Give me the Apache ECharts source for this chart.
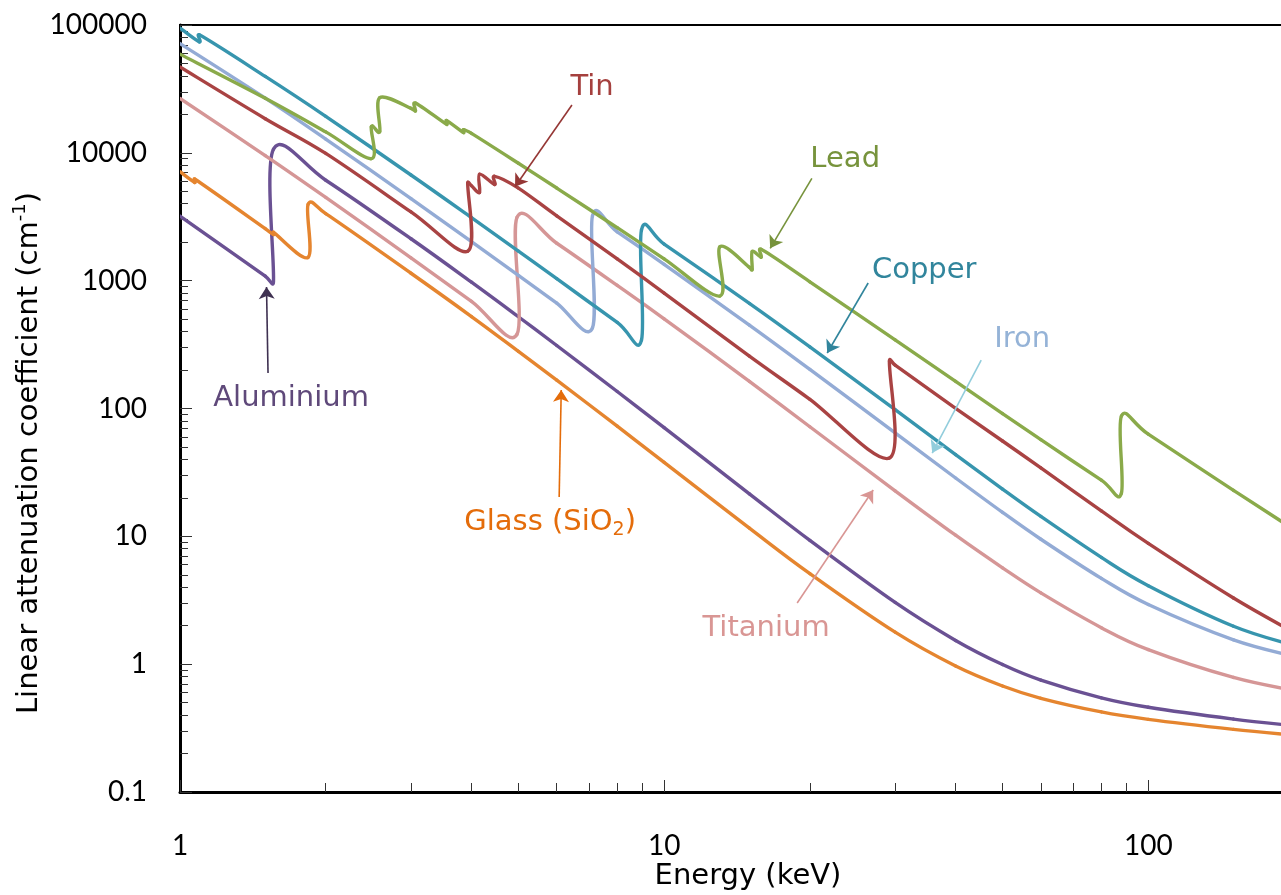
<!DOCTYPE html>
<html>
<head>
<meta charset="utf-8">
<script src="https://cdn.jsdelivr.net/npm/echarts@6/dist/echarts.min.js"></script>
<style>
  html, body { margin: 0; padding: 0; background: #ffffff; }
  #chart { width: 1281px; height: 895px; }
</style>
</head>
<body>
<div id="chart"></div>
<script>
// Linear attenuation coefficient (cm^-1) versus photon energy (keV).
// Absorption edges are given as two points at the same energy.

const alEnergy = [1, 1.5, 1.5596, 1.5596, 2, 3, 4, 5, 6, 8, 10, 15, 20, 30, 40, 50, 60, 80, 100, 150, 200];
const alMu     = [3198, 1086, 977, 10680, 6108, 2127, 973, 522, 311, 135.8, 70.8, 21.5, 9.29, 3.04, 1.534, 0.993, 0.750, 0.545, 0.460, 0.372, 0.330];

const glassEnergy = [1, 1.0721, 1.0721, 1.5, 1.5596, 1.5596, 1.8389, 1.8389, 2, 3, 4, 5, 6, 8, 10, 15, 20, 30, 40, 50, 60, 80, 100, 150, 200];
const glassMu     = [7116, 5870, 6240, 2552, 2297, 2393, 1522, 3945, 3341, 1143, 524, 280, 167, 72.7, 37.9, 11.6, 5.11, 1.78, 0.968, 0.675, 0.541, 0.423, 0.370, 0.309, 0.278];

const tiEnergy = [1, 1.5, 2, 3, 4, 4.966, 4.966, 6, 8, 10, 15, 20, 30, 40, 50, 60, 80, 100, 150, 200];
const tiMu     = [26645, 9516, 4479, 1510, 689, 380, 3123, 1963, 918, 503, 163, 72, 22.7, 10.2, 5.67, 3.61, 1.93, 1.30, 0.787, 0.622];

const feEnergy = [1, 1.5, 2, 3, 4, 5, 6, 7.112, 7.112, 8, 10, 15, 20, 30, 40, 50, 60, 80, 100, 150, 200];
const feMu     = [71540, 26760, 12800, 4391, 2021, 1101, 668, 427, 3209, 2406, 1343, 449, 202, 64.4, 28.6, 15.4, 9.49, 4.69, 2.93, 1.55, 1.15];

const cuEnergy = [1, 1.0961, 1.0961, 1.5, 2, 3, 4, 5, 6, 8, 8.979, 8.979, 10, 15, 20, 30, 40, 50, 60, 80, 100, 150, 200];
const cuMu     = [94700, 73850, 83750, 39590, 19300, 6709, 3112, 1702, 1036, 471, 343, 2494, 1934, 663.5, 302.8, 97.8, 43.6, 23.4, 14.3, 6.84, 4.11, 1.98, 1.40];

const snEnergy = [1, 1.5, 2, 3, 3.929, 3.929, 4, 4.156, 4.156, 4.465, 4.465, 5, 6, 8, 10, 15, 20, 29.2, 29.2, 30, 40, 50, 60, 80, 100, 150, 200];
const snMu     = [46900, 18500, 9900, 3450, 1700, 5800, 5530, 4900, 6800, 5650, 6550, 5300, 3213, 1478, 800, 257, 118, 41, 235, 218, 100.4, 55.7, 34.3, 15.8, 8.8, 3.29, 1.77];

const pbEnergy = [1, 1.5, 2, 2.484, 2.484, 2.586, 2.586, 3, 3.066, 3.066, 3.554, 3.554, 3.851, 3.851, 4, 5, 6, 8, 10, 13.035, 13.035, 15, 15.2, 15.2, 15.861, 15.861, 20, 30, 40, 50, 60, 80, 88.005, 88.005, 100, 150, 200];
const pbMu     = [59130, 26740, 14585, 9000, 16000, 14700, 27000, 22300, 21300, 24500, 16700, 17900, 14400, 15200, 14200, 8290, 5303, 2596, 1482, 758, 1841, 1273, 1225, 1690, 1524, 1758, 980, 344, 163, 91.3, 57, 27.5, 21.7, 87.2, 63, 22.9, 11.3];

// Axis ticks
const xMajorTicks = [1, 10, 100];
const xMinorTicks = [2, 3, 4, 5, 6, 7, 8, 9, 20, 30, 40, 50, 60, 70, 80, 90];
const yMajorTicks = [0.1, 1, 10, 100, 1000, 10000, 100000];
const yMinorTicks = [];
for (let d = -1; d <= 4; d++) {
  for (let k = 2; k <= 9; k++) yMinorTicks.push(+(k * Math.pow(10, d)).toPrecision(3));
}

// Label text, label anchor, arrow start and arrow tip (energy keV, mu cm^-1)
const labelNames   = ['Aluminium', 'Glass (SiO2)', 'Titanium', 'Iron', 'Copper', 'Tin', 'Lead'];
const labelAnchors = [[1.696, 120.8], [5.815, 12.94], [16.24, 1.918], [54.9, 349.6], [34.45, 1212], [7.10, 32440], [23.66, 8950]];
const arrowFrom    = [[1.52, 189.5], [6.07, 20.3], [18.83, 3.008], [45.18, 239.5], [26.39, 958.7], [6.45, 23660], [20.19, 6320]];
const arrowTo      = [[1.509, 892], [6.13, 139.5], [27.03, 23.03], [35.79, 44.86], [21.72, 271.7], [4.92, 5430], [16.56, 1791]];

const seriesDefs = [
  { name: 'Aluminium', energy: alEnergy, mu: alMu, line: '#6a5193', arrow: '#3f3151', text: '#5f497a' },
  { name: 'Glass (SiO2)', energy: glassEnergy, mu: glassMu, line: '#e5852f', arrow: '#e46c0a', text: '#e46c0a' },
  { name: 'Titanium', energy: tiEnergy, mu: tiMu, line: '#d59696', arrow: '#d99694', text: '#d99694' },
  { name: 'Iron', energy: feEnergy, mu: feMu, line: '#93abd5', arrow: '#92cddc', text: '#95b3d7' },
  { name: 'Copper', energy: cuEnergy, mu: cuMu, line: '#3795ae', arrow: '#31859c', text: '#31859c' },
  { name: 'Tin', energy: snEnergy, mu: snMu, line: '#a94343', arrow: '#953735', text: '#a5403e' },
  { name: 'Lead', energy: pbEnergy, mu: pbMu, line: '#8aaa4a', arrow: '#77933c', text: '#77933c' }
];

const LABEL_FONT = 'DejaVu Sans';
const TICK_FONT = 'Lato';
const TEXT_SIZE = 29;

function pairs(e, m) { return e.map((v, i) => [v, m[i]]); }

// Smoothed curve: each segment is a cubic Bezier whose control points follow
// the neighbouring points in screen space (Catmull-Rom style, tension 1/6).
// Control arms are kept shorter than the segment itself so that very short
// segments next to an absorption edge do not loop.
function clampArm(v, maxLen) {
  const len = Math.hypot(v[0], v[1]);
  if (len <= maxLen || len === 0) return v;
  const s = maxLen / len;
  return [v[0] * s, v[1] * s];
}

function smoothSegmentRenderer(points, color) {
  const n = points.length;
  return function (params, api) {
    const i = params.dataIndex;
    if (i >= n - 1) return null;
    const at = k => api.coord(points[Math.max(0, Math.min(n - 1, k))]);
    const p0 = at(i - 1), p1 = at(i), p2 = at(i + 1), p3 = at(i + 2);
    const seg = Math.hypot(p2[0] - p1[0], p2[1] - p1[1]);
    const a1 = clampArm([(p2[0] - p0[0]) / 6, (p2[1] - p0[1]) / 6], seg * 0.6);
    const a2 = clampArm([(p3[0] - p1[0]) / 6, (p3[1] - p1[1]) / 6], seg * 0.6);
    const c1 = [p1[0] + a1[0], p1[1] + a1[1]];
    const c2 = [p2[0] - a2[0], p2[1] - a2[1]];
    const d = 'M' + p1[0] + ',' + p1[1] +
              'C' + c1[0] + ',' + c1[1] + ',' + c2[0] + ',' + c2[1] + ',' + p2[0] + ',' + p2[1];
    return {
      type: 'path',
      shape: { pathData: d },
      style: { stroke: color, lineWidth: 3.4, fill: null, lineCap: 'round', lineJoin: 'round' },
      silent: true
    };
  };
}

const chart = echarts.init(document.getElementById('chart'), null, { renderer: 'canvas' });

// The plot area runs to 200 keV, slightly past the right edge of the canvas.
const gridBox = { left: 180, top: 25, width: 1114, height: 767 };

function baseLogAxis(min, max) {
  return { type: 'log', logBase: 10, min: min, max: max, gridIndex: 0, splitLine: { show: false } };
}

const option = {
  animation: false,
  backgroundColor: '#ffffff',
  grid: Object.assign({
    show: true, borderColor: '#000000', borderWidth: 2, backgroundColor: 'transparent',
    containLabel: false, outerBoundsMode: 'none'
  }, gridBox),
  xAxis: [
    Object.assign(baseLogAxis(1, 200), {
      position: 'bottom',
      axisLine: { show: true, lineStyle: { color: '#000000', width: 3 } },
      axisTick: { show: true, inside: true, length: 12, lineStyle: { color: '#333333', width: 1 }, customValues: xMajorTicks },
      axisLabel: {
        show: true, margin: 40, fontFamily: TICK_FONT, fontSize: 28, color: '#000000',
        customValues: xMajorTicks,
        formatter: v => String(Math.round(v))
      }
    }),
    Object.assign(baseLogAxis(1, 200), {
      position: 'bottom',
      axisLine: { show: false },
      axisTick: { show: true, inside: true, length: 9, lineStyle: { color: '#333333', width: 1 }, customValues: xMinorTicks },
      axisLabel: { show: false }
    })
  ],
  yAxis: [
    Object.assign(baseLogAxis(0.1, 100000), {
      position: 'left',
      axisLine: { show: true, lineStyle: { color: '#000000', width: 3 } },
      axisTick: { show: true, inside: true, length: 12, lineStyle: { color: '#333333', width: 1 }, customValues: yMajorTicks },
      axisLabel: {
        show: true, margin: 33, fontFamily: TICK_FONT, fontSize: 28, color: '#000000',
        customValues: yMajorTicks,
        formatter: v => (v >= 1 ? String(Math.round(v)) : String(+v.toFixed(1)))
      }
    }),
    Object.assign(baseLogAxis(0.1, 100000), {
      position: 'left',
      axisLine: { show: false },
      axisTick: { show: true, inside: true, length: 8, lineStyle: { color: '#333333', width: 1 }, customValues: yMinorTicks },
      axisLabel: { show: false }
    })
  ],
  series: seriesDefs.map((s, i) => {
    const pts = pairs(s.energy, s.mu);
    return {
      name: s.name,
      type: 'custom',
      coordinateSystem: 'cartesian2d',
      xAxisIndex: 0,
      yAxisIndex: 0,
      clip: true,
      encode: { x: 0, y: 1 },
      data: pts,
      renderItem: smoothSegmentRenderer(pts, s.line),
      markLine: {
        silent: true,
        animation: false,
        symbol: ['none', 'arrow'],
        symbolSize: 12,
        label: { show: false },
        emphasis: { disabled: true },
        lineStyle: { color: s.arrow, width: 1.6, type: 'solid' },
        itemStyle: { color: s.arrow },
        data: [[{ coord: arrowFrom[i] }, { coord: arrowTo[i] }]]
      }
    };
  })
};

chart.setOption(option);

// Curve labels placed at data coordinates, plus axis titles
const graphics = labelNames.map((name, i) => {
  const p = chart.convertToPixel({ gridIndex: 0 }, labelAnchors[i]);
  const color = seriesDefs[i].text;
  const isGlass = name.indexOf('SiO2') >= 0;
  return {
    type: 'text',
    x: p[0],
    y: p[1],
    silent: true,
    style: {
      text: isGlass ? '{a|Glass (SiO}{b|2}{a|)}' : name,
      fill: color,
      fontFamily: LABEL_FONT,
      fontSize: TEXT_SIZE,
      align: 'center',
      verticalAlign: 'middle',
      rich: isGlass ? {
        a: { fill: color, fontFamily: LABEL_FONT, fontSize: TEXT_SIZE, lineHeight: 36 },
        b: { fill: color, fontFamily: LABEL_FONT, fontSize: 19, verticalAlign: 'bottom', lineHeight: 36 }
      } : undefined
    }
  };
});

graphics.push({
  type: 'text',
  x: 748,
  y: 876,
  silent: true,
  style: {
    text: 'Energy (keV)',
    fill: '#000000',
    fontFamily: LABEL_FONT,
    fontSize: TEXT_SIZE,
    align: 'center',
    verticalAlign: 'middle'
  }
});

graphics.push({
  type: 'text',
  x: 29,
  y: 453,
  rotation: Math.PI / 2,
  silent: true,
  style: {
    text: '{a|Linear attenuation coefficient (cm}{s|-1}{a|)}',
    fill: '#000000',
    align: 'center',
    verticalAlign: 'middle',
    rich: {
      a: { fill: '#000000', fontFamily: LABEL_FONT, fontSize: TEXT_SIZE, lineHeight: 36 },
      s: { fill: '#000000', fontFamily: LABEL_FONT, fontSize: 18, verticalAlign: 'top', lineHeight: 36 }
    }
  }
});

chart.setOption({ graphic: graphics });
</script>
</body>
</html>
